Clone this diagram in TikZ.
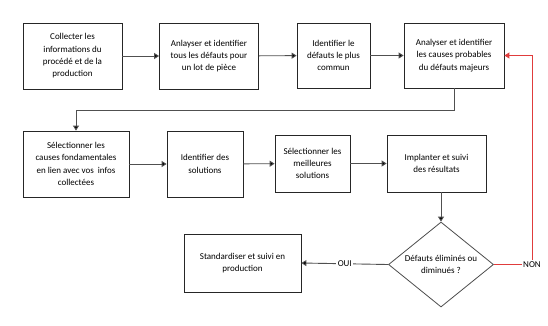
\documentclass[tikz,border=0pt]{standalone}
\usepackage{fontspec}
\setmainfont{Carlito}
\usetikzlibrary{arrows.meta,shapes.geometric}
\definecolor{lineg}{HTML}{505050}
\definecolor{nonred}{HTML}{E03C3C}
\begin{document}
\begin{tikzpicture}[x=1pt,y=-1pt,
  box/.style={draw=black!85,line width=0.8pt,inner sep=0pt,align=center,font=\fontsize{9}{12.3}\selectfont},
  conn/.style={draw=lineg,line width=0.9pt,-{Triangle[length=5pt,width=6pt,fill=black]}},
  redconn/.style={draw=nonred,line width=0.9pt,-{Triangle[length=5pt,width=6pt,fill=nonred]}},
  lbl/.style={fill=white,inner sep=1.5pt,font=\fontsize{9}{12.3}\selectfont}]
\useasboundingbox (0,0) rectangle (548,325);
\node[box,minimum width=99pt,minimum height=66pt] (b1) at (72.5,56) {Collecter les\\informations du\\procédé et de la\\production};
\node[box,minimum width=99pt,minimum height=66pt] (b2) at (209,56) {Anlayser et identifier\\tous les défauts pour\\un lot de pièce};
\node[box,minimum width=73pt,minimum height=65pt] (b3) at (333.5,55.5) {Identifier le\\défauts le plus\\commun};
\node[box,minimum width=100pt,minimum height=65pt] (b4) at (454,55.5) {Analyser et identifier\\les causes probables\\du défauts majeurs};
\node[box,minimum width=106pt,minimum height=66pt] (b5) at (76,164) {Sélectionner les\\causes fondamentales\\en lien avec vos\ \ infos\\collectées};
\node[box,minimum width=76pt,minimum height=66pt] (b6) at (205,164) {Identifier des\\solutions};
\node[box,minimum width=75pt,minimum height=57pt] (b7) at (312.5,163.5) {Sélectionner les\\meilleures\\solutions};
\node[box,minimum width=99pt,minimum height=57pt] (b8) at (436.5,163.5) {Implanter et suivi\\des résultats};
\node[diamond,draw=black!70,line width=0.8pt,inner sep=0pt,minimum width=105pt,minimum height=85pt] (d) at (441,264.5) {};
\node[align=center,inner sep=0pt,font=\fontsize{9}{12.3}\selectfont] (dt) at (441,264.5) {Défauts éliminés ou\\diminués ?};
\node[box,minimum width=117pt,minimum height=58pt] (b9) at (242.5,263) {Standardiser et suivi en\\production};
\coordinate (turn) at (0,110);
\coordinate (nonc) at (532,264.5);
\draw[conn] (b1) -- (b2);
\draw[conn] (b2) -- (b3);
\draw[conn] (b3) -- (b4);
\draw[conn] (b4.south) |- (turn -| b5.north) -- (b5.north);
\draw[conn] (b5) -- (b6);
\draw[conn] (b6) -- (b7);
\draw[conn] (b7) -- (b8);
\draw[conn] (b8.south -| d.north) -- (d.north);
\draw[conn] (d.west) -- node[lbl] (oui) {OUI} (b9.east);
\draw[redconn] (d.east) -- (nonc) |- (b4.east);
\node[lbl,inner sep=1.5pt] (non) at (nonc) {NON};
\end{tikzpicture}
\end{document}
